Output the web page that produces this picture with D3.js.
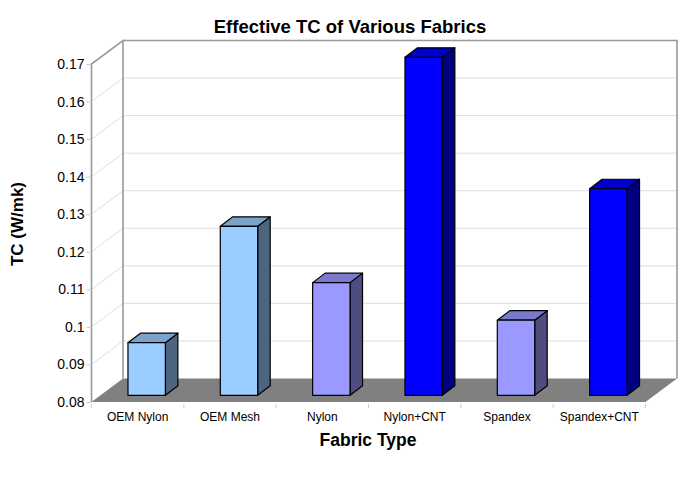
<!DOCTYPE html>
<html>
<head>
<meta charset="utf-8">
<title>Effective TC of Various Fabrics</title>
<script src="https://cdn.jsdelivr.net/npm/d3@7"></script>
<style>
  html, body { margin: 0; padding: 0; background: #fff; }
  svg { display: block; font-family: "Liberation Sans", Arial, sans-serif; }
</style>
</head>
<body>
<script>
// data
var fabrics = ["OEM Nylon", "OEM Mesh", "Nylon", "Nylon+CNT", "Spandex", "Spandex+CNT"];
var tcValues = [0.094, 0.125, 0.11, 0.17, 0.1, 0.135];
var fabricGroups = ["oem", "oem", "plain", "cnt", "plain", "cnt"];
var tcTicks = [0.08, 0.09, 0.1, 0.11, 0.12, 0.13, 0.14, 0.15, 0.16, 0.17];

var width = 700, height = 479;

// front plane of the box, plus how far the back wall is shifted
var plotLeft = 91.5, plotRight = 645.5, plotTop = 64, plotBottom = 402;
var depthX = 31.5, depthY = 23.5;
var barDepthX = 12.5, barDepthY = 9.5;
var barOffsetX = 9, barOffsetY = 6.7;

var svg = d3.select("body").append("svg")
    .attr("width", width)
    .attr("height", height);

var x = d3.scaleBand().domain(fabrics).range([plotLeft, plotRight]).paddingInner(0.595).paddingOuter(0.2975);
var y = d3.scaleLinear().domain([0.08, 0.17]).range([plotBottom, plotTop]);

var front = d3.scaleOrdinal().domain(["oem", "plain", "cnt"]).range(["#99ccff", "#9999ff", "#0000ff"]);
var roof = d3.scaleOrdinal().domain(["oem", "plain", "cnt"]).range(["#7aa3cc", "#7a7acc", "#0000cc"]);
var side = d3.scaleOrdinal().domain(["oem", "plain", "cnt"]).range(["#4d6680", "#4d4d80", "#000080"]);

// gridlines on both walls
var grid = svg.append("g").attr("fill", "none").attr("stroke", "#dedede").attr("stroke-width", 1);
grid.selectAll("path")
    .data(tcTicks.slice(1, -1))
    .enter().append("path")
    .attr("d", function (d) {
        return d3.line()([[plotLeft, y(d)], [plotLeft + depthX, y(d) - depthY], [plotRight + depthX, y(d) - depthY]]);
    });

// floor
svg.append("path")
    .attr("fill", "#808080")
    .attr("d", d3.line()([[plotLeft, plotBottom], [plotLeft + depthX, plotBottom - depthY], [plotRight + depthX, plotBottom - depthY], [plotRight, plotBottom]]) + "Z");

// wall outline
svg.append("path")
    .attr("fill", "none")
    .attr("stroke", "#999")
    .attr("stroke-width", 1.6)
    .attr("d", d3.line()([[plotLeft, plotBottom], [plotLeft, plotTop], [plotLeft + depthX, plotTop - depthY], [plotLeft + depthX, plotBottom - depthY]]) +
        d3.line()([[plotLeft + depthX, plotTop - depthY], [plotRight + depthX, plotTop - depthY], [plotRight + depthX, plotBottom - depthY]]));

// axes
var yAxis = svg.append("g")
    .attr("transform", "translate(" + plotLeft + ",0)")
    .call(d3.axisLeft(y).tickValues(tcTicks).tickFormat(d3.format("~g")).tickSize(5).tickPadding(2));
yAxis.select(".domain").remove();
yAxis.selectAll("line").attr("stroke", "#ccc");
yAxis.selectAll("text").attr("fill", "#000").style("font-size", "14px");

var xAxis = svg.append("g")
    .attr("transform", "translate(0," + plotBottom + ")")
    .call(d3.axisBottom(x).tickSize(0).tickPadding(10));
xAxis.select(".domain").remove();
xAxis.selectAll("text").attr("fill", "#000").style("font-size", "12px");
xAxis.selectAll("line").remove();

// separators between the categories
var step = x.step();
svg.append("g").selectAll("line")
    .data(fabrics.concat("end"))
    .enter().append("line")
    .attr("x1", function (d, i) { return plotLeft + i * step; })
    .attr("x2", function (d, i) { return plotLeft + i * step; })
    .attr("y1", plotBottom + 2)
    .attr("y2", plotBottom + 6)
    .attr("stroke", "#ccc");

// bars
var bars = svg.append("g").selectAll("g")
    .data(fabrics)
    .enter().append("g")
    .attr("stroke", "#000")
    .attr("stroke-width", 1.2)
    .attr("stroke-linejoin", "round");

function barBox(d, i) {
    var x0 = x(d) + barOffsetX;
    return { x0: x0, x1: x0 + x.bandwidth(), y0: y(tcValues[i]) - barOffsetY, y1: plotBottom - barOffsetY };
}

bars.append("path") // right side
    .attr("fill", function (d, i) { return side(fabricGroups[i]); })
    .attr("d", function (d, i) {
        var b = barBox(d, i);
        return d3.line()([[b.x1, b.y0], [b.x1 + barDepthX, b.y0 - barDepthY], [b.x1 + barDepthX, b.y1 - barDepthY], [b.x1, b.y1]]) + "Z";
    });
bars.append("path") // top
    .attr("fill", function (d, i) { return roof(fabricGroups[i]); })
    .attr("d", function (d, i) {
        var b = barBox(d, i);
        return d3.line()([[b.x0, b.y0], [b.x0 + barDepthX, b.y0 - barDepthY], [b.x1 + barDepthX, b.y0 - barDepthY], [b.x1, b.y0]]) + "Z";
    });
bars.append("rect") // front
    .attr("fill", function (d, i) { return front(fabricGroups[i]); })
    .attr("x", function (d, i) { return barBox(d, i).x0; })
    .attr("y", function (d, i) { return barBox(d, i).y0; })
    .attr("width", x.bandwidth())
    .attr("height", function (d, i) { var b = barBox(d, i); return b.y1 - b.y0; });

// titles
svg.append("text")
    .attr("x", 350).attr("y", 33)
    .attr("text-anchor", "middle")
    .style("font-size", "18.5px").style("font-weight", "bold")
    .text("Effective TC of Various Fabrics");

svg.append("text")
    .attr("x", 368).attr("y", 446)
    .attr("text-anchor", "middle")
    .style("font-size", "17.5px").style("font-weight", "bold")
    .text("Fabric Type");

svg.append("text")
    .attr("transform", "translate(23,224) rotate(-90)")
    .attr("text-anchor", "middle")
    .style("font-size", "17px").style("font-weight", "bold")
    .text("TC (W/mk)");
</script>
</body>
</html>
